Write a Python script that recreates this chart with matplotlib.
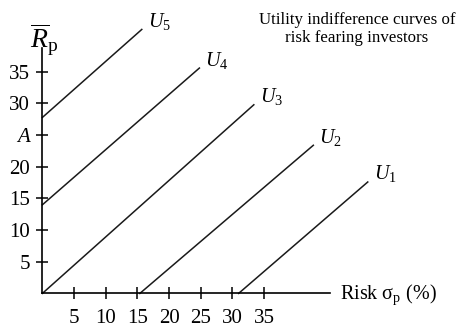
import matplotlib.pyplot as plt

plt.rcParams['font.family'] = 'Liberation Serif'
plt.rcParams['mathtext.fontset'] = 'custom'
plt.rcParams['mathtext.rm'] = 'Liberation Serif'
plt.rcParams['mathtext.it'] = 'Liberation Serif:italic'

# indifference curves: start and end points (risk %, return)
curves = ['U1', 'U2', 'U3', 'U4', 'U5']
x_start = [31.0, 15.4, 0.0, 0.0, 0.0]
y_start = [0.0, 0.0, 0.0, 14.0, 27.8]
x_end = [51.4, 42.8, 33.4, 24.8, 15.7]
y_end = [17.6, 23.4, 29.8, 35.6, 41.7]

xticks = [5, 10, 15, 20, 25, 30, 35]
yticks = [5, 10, 15, 20, 25, 30, 35]
ytick_labels = ['5', '10', '15', '20', 'A', '30', '35']

fig = plt.figure(figsize=(4.6, 3.27), dpi=100)
W, H = 460, 327
x0, y0 = 42.4, 293.4
ppu = 6.33
xmax, ymax = 45.4, 38.8
ax = fig.add_axes([x0 / W, (H - y0) / H, xmax * ppu / W, ymax * ppu / H])
ax.set_xlim(0, xmax)
ax.set_ylim(0, ymax)
ax.patch.set_alpha(0)
for s in ['top', 'right']:
    ax.spines[s].set_visible(False)
for s in ['left', 'bottom']:
    ax.spines[s].set_linewidth(1.2)

ax.set_xticks(xticks)
ax.set_yticks(yticks)
ax.set_yticklabels(ytick_labels)
labs = ax.get_yticklabels()
labs[4].set_fontstyle('italic')
ax.tick_params(direction='inout', length=8, width=1.1, labelsize=15)
ax.tick_params(axis='y', pad=5)
ax.tick_params(axis='x', pad=7)

for name, xs, ys, xe, ye in zip(curves, x_start, y_start, x_end, y_end):
    ax.plot([xs, xe], [ys, ye], color='#1a1a1a', lw=1.1, clip_on=False)
    ax.annotate(r'$U_{\mathrm{%s}}$' % name[1:], (xe, ye), xytext=(6, 8),
                textcoords='offset pixels', fontsize=14.5, ha='left', va='center',
                annotation_clip=False)

fig.text(44 / W, 1 - 40 / H, r'$\overline{R}_{\mathrm{p}}$', fontsize=20,
         ha='center', va='center')
fig.text(340 / W, 1 - 295 / H, r'Risk $\mathrm{\sigma}_{\mathrm{p}}$ (%)',
         fontsize=14.5, ha='left', va='center')
fig.text(357 / W, 1 - 29 / H, 'Utility indifference curves of\nrisk fearing investors',
         fontsize=12.2, ha='center', va='center', linespacing=1.15)

fig.savefig('out.png', dpi=100)
